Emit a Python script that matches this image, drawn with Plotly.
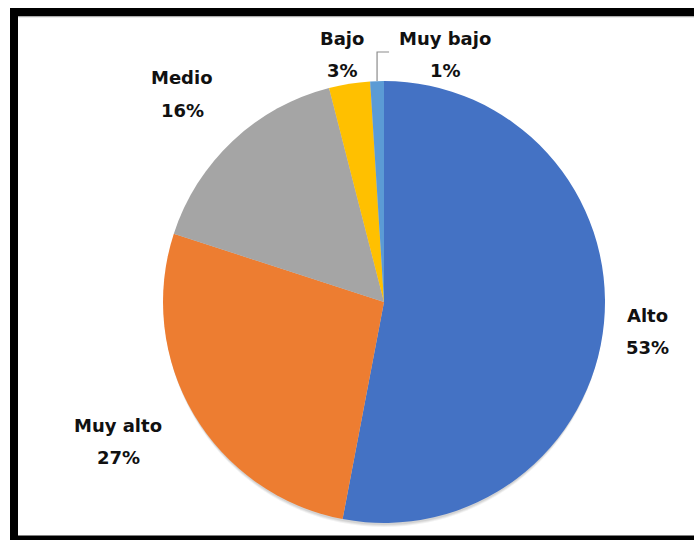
import math
import plotly.graph_objects as go

# Distribution of levels (percent of respondents)
categories = ["Alto", "Muy alto", "Medio", "Bajo", "Muy bajo"]
values = [53, 27, 16, 3, 1]
colors = ["#4472C4", "#ED7D31", "#A5A5A5", "#FFC000", "#5B9BD5"]

W, H = 694, 540
CX, CY, R = 384, 302, 221          # pie centre and radius in pixels

# centre of each two-line label block, in pixels
label_pos = {
    "Alto": (647, 331),
    "Muy alto": (118, 441),
    "Medio": (182, 94),
    "Bajo": (342, 54),
    "Muy bajo": (445, 54),
}
leader_labels = {"Muy bajo"}


def px(x):
    return x / W


def py(y):
    return 1 - y / H


fig = go.Figure(go.Pie(
    labels=categories,
    values=values,
    sort=False,
    direction="clockwise",
    rotation=0,
    marker=dict(colors=colors, line=dict(width=0)),
    textinfo="none",
    hoverinfo="label+percent",
    showlegend=False,
    domain=dict(x=[px(CX - R), px(CX + R)], y=[py(CY + R), py(CY - R)]),
))

font = dict(family="DejaVu Sans", size=18, color="#111111")
annotations = []
shapes = []

total = sum(values)
cum = 0
for name, v in zip(categories, values):
    mid = (cum + v / 2) / total * 2 * math.pi   # clockwise from 12 o'clock
    cum += v
    pct = f"{round(v / total * 100)}%"
    lx, ly = label_pos[name]
    if name in leader_labels:
        # leader line from the rim of the slice up, then a short step right
        ex = CX + R * math.sin(mid)
        ey = CY - R * math.cos(mid)
        ty = ly - 2
        tx = ex + 12
        shapes.append(dict(
            type="path", xref="paper", yref="paper",
            path=f"M {px(ex)},{py(ey)} L {px(ex)},{py(ty)} L {px(tx)},{py(ty)}",
            line=dict(color="#8c8c8c", width=1.2),
        ))
    annotations.append(dict(x=px(lx), y=py(ly - 16), xref="paper", yref="paper",
                            text=f"<b>{name}</b>", showarrow=False, font=font,
                            xanchor="center", yanchor="middle"))
    annotations.append(dict(x=px(lx), y=py(ly + 16), xref="paper", yref="paper",
                            text=f"<b>{pct}</b>", showarrow=False, font=font,
                            xanchor="center", yanchor="middle"))

# soft drop shadow under the pie
for off, alpha in [(4, 0.05), (3, 0.06), (2, 0.07)]:
    shapes.append(dict(type="circle", xref="paper", yref="paper", layer="below",
                       x0=px(CX - R + 1), x1=px(CX + R - 1),
                       y0=py(CY + R + off), y1=py(CY - R + off),
                       fillcolor=f"rgba(0,0,0,{alpha})", line=dict(width=0)))

# thick black frame (top, left, bottom)
for x0, y0, x1, y1 in [(10, 8, W + 5, 16.5), (10, 8, 18, H + 5), (10, 535.5, W + 5, H + 5)]:
    shapes.append(dict(type="rect", xref="paper", yref="paper",
                       x0=px(x0), x1=px(x1), y0=py(y1), y1=py(y0),
                       fillcolor="#000000", line=dict(width=0)))
shapes.append(dict(type="line", xref="paper", yref="paper",
                   x0=px(18), x1=px(W), y0=py(17), y1=py(17),
                   line=dict(color="#d9d9d9", width=1)))

fig.update_layout(
    width=W, height=H,
    margin=dict(l=0, r=0, t=0, b=0),
    paper_bgcolor="white",
    plot_bgcolor="white",
    annotations=annotations,
    shapes=shapes,
)

fig.write_html("out.html")
